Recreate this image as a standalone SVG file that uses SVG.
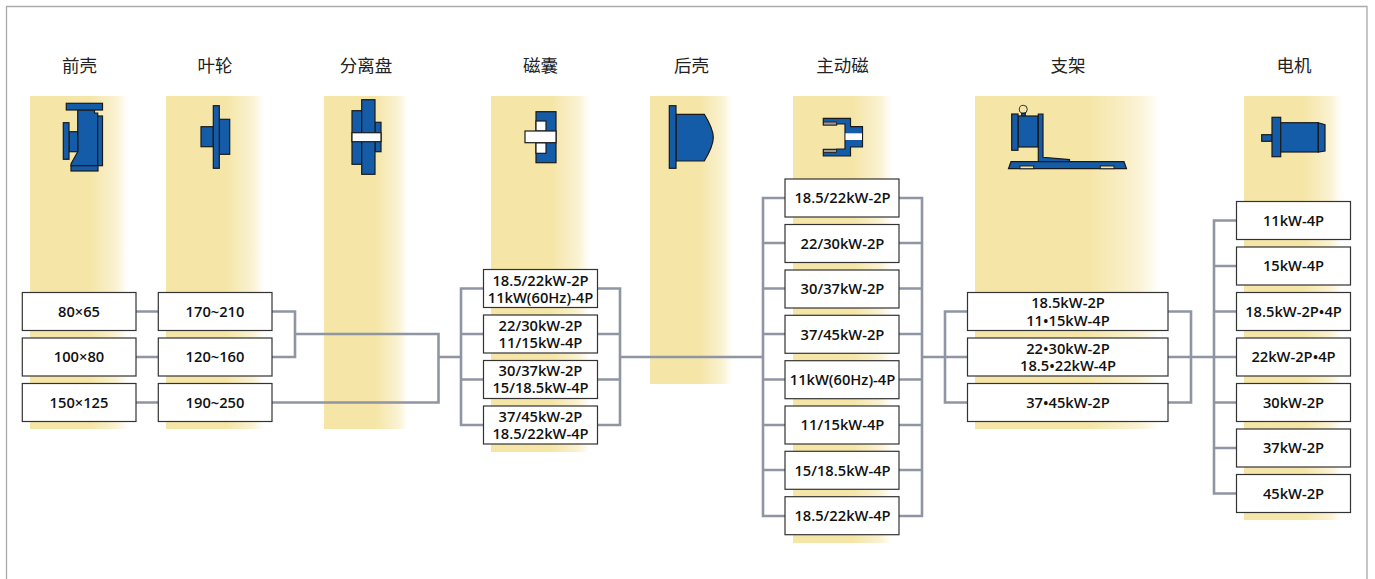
<svg xmlns="http://www.w3.org/2000/svg" width="1375" height="579" viewBox="0 0 1375 579">
<style>
.t{font-family:"Noto Sans CJK SC","Noto Sans",sans-serif;font-size:17.5px;fill:#222;text-anchor:middle}
.l{font-family:"Open Sans","Liberation Sans",sans-serif;font-size:14.7px;font-weight:600;fill:#111;text-anchor:middle}
.b{fill:#fff;stroke:#333;stroke-width:1.2}
.i{fill:#155ca8;stroke:#1a1a1a;stroke-width:1.2}
.w{fill:#fff;stroke:#1a1a1a;stroke-width:1.2}
.y{fill:#f5e6a8;stroke:#1a1a1a;stroke-width:0.9}
.s{fill:#999;stroke:#1a1a1a;stroke-width:0.8}
.c{fill:none;stroke:#8f95a3;stroke-width:2.6}
.band{fill:url(#g)}
</style>
<defs>
<linearGradient id="g" x1="0" x2="1" y1="0" y2="0">
<stop offset="0" stop-color="#f5e6a8"/><stop offset="0.62" stop-color="#f5e6a8"/><stop offset="0.88" stop-color="#faf2d2"/><stop offset="1" stop-color="#fff"/>
</linearGradient>
</defs>
<path d="M6.5 579V6.5H1367V579" fill="none" stroke="#aaa" stroke-width="1.3"/>
<g id="bands">
<rect class="band" x="30" y="96" width="98" height="333"/>
<rect class="band" x="166" y="96" width="98" height="333"/>
<rect class="band" x="324" y="96" width="84" height="333"/>
<rect class="band" x="491" y="96" width="99" height="356"/>
<rect class="band" x="650" y="96" width="82" height="288"/>
<rect class="band" x="793" y="96" width="99" height="447"/>
<rect class="band" x="975" y="96" width="185" height="333"/>
<rect class="band" x="1244" y="96" width="98" height="424"/>
</g>
<g id="connectors" class="c">
<path d="M136 311.5H158M136 357H158M136 402.5H158"/>
<path d="M272 311.5H295V357H272M295 334H438.5V402.5H272M438.5 357H461"/>
<path d="M483.5 288.5H461V425H483.5M461 334H483.5M461 379.5H483.5"/>
<path d="M597.5 288.5H620V425H597.5M620 334H597.5M620 379.5H597.5M620 357H763"/>
<path d="M785 198H763V516H785M763 243H785M763 288.5H785M763 334H785M763 379.5H785M763 425H785M763 470H785"/>
<path d="M899 198H922V516H899M922 243H899M922 288.5H899M922 334H899M922 379.5H899M922 425H899M922 470H899M922 357H945"/>
<path d="M967.5 311.5H945V402.5H967.5M945 357H967.5"/>
<path d="M1168 311.5H1191V402.5H1168M1191 357H1168M1191 357H1214"/>
<path d="M1236.5 220.5H1214V493.5H1236.5M1214 266H1236.5M1214 311.5H1236.5M1214 357H1236.5M1214 402.5H1236.5M1214 448H1236.5"/>
</g>
<g id="front-casing">
<text class="t" x="79.5" y="72">前壳</text>
<path class="i" d="M77.7 110H94.5V113H97.7V165.7H71V164L77.7 151.7Z"/>
<rect class="i" x="66.3" y="103.3" width="36.2" height="6.7"/>
<rect class="i" x="97.7" y="116" width="4.8" height="49.7"/>
<rect class="i" x="71" y="165.7" width="27" height="5.3"/>
<rect class="i" x="69" y="131.7" width="8.7" height="20"/>
<rect class="i" x="63.3" y="122.7" width="5.7" height="36.6"/>
<rect class="b" x="22.3" y="292.5" width="113.7" height="38"/><text class="l" x="79" y="316.7">80×65</text>
<rect class="b" x="22.3" y="338" width="113.7" height="38"/><text class="l" x="79" y="362">100×80</text>
<rect class="b" x="22.3" y="383.5" width="113.7" height="38"/><text class="l" x="79" y="407.7">150×125</text>
</g>
<g id="impeller">
<text class="t" x="215" y="72">叶轮</text>
<rect class="i" x="201" y="126.7" width="12.3" height="20"/>
<rect class="i" x="219.3" y="119.3" width="10.4" height="35"/>
<rect class="i" x="213.3" y="105.7" width="6" height="62.6"/>
<rect class="b" x="158.3" y="292.5" width="113.7" height="38"/><text class="l" x="215" y="316.7">170~210</text>
<rect class="b" x="158.3" y="338" width="113.7" height="38"/><text class="l" x="215" y="362">120~160</text>
<rect class="b" x="158.3" y="383.5" width="113.7" height="38"/><text class="l" x="215" y="407.7">190~250</text>
</g>
<g id="separator-disc">
<text class="t" x="366" y="72">分离盘</text>
<rect class="i" x="352" y="110.7" width="9.7" height="53.6"/>
<rect class="i" x="375" y="122.3" width="6" height="29.4"/>
<rect class="i" x="361.7" y="99.7" width="13.3" height="74.6"/>
<rect class="w" x="352" y="132.7" width="29" height="9"/>
</g>
<g id="magnet-capsule">
<text class="t" x="540.5" y="72">磁囊</text>
<rect class="i" x="536" y="111.7" width="20" height="51"/>
<rect class="w" x="536" y="121" width="10" height="10"/>
<rect class="w" x="536" y="142.7" width="10" height="10.6"/>
<rect class="w" x="525" y="131" width="31" height="11.7"/>
<rect class="b" x="483.5" y="269.5" width="114" height="38"/><text class="l" x="540.5" y="286">18.5/22kW-2P</text><text class="l" x="540.5" y="303.3">11kW(60Hz)-4P</text>
<rect class="b" x="483.5" y="315" width="114" height="38"/><text class="l" x="540.5" y="331">22/30kW-2P</text><text class="l" x="540.5" y="348">11/15kW-4P</text>
<rect class="b" x="483.5" y="360.5" width="114" height="38"/><text class="l" x="540.5" y="375.7">30/37kW-2P</text><text class="l" x="540.5" y="392.7">15/18.5kW-4P</text>
<rect class="b" x="483.5" y="406" width="114" height="38"/><text class="l" x="540.5" y="421.7">37/45kW-2P</text><text class="l" x="540.5" y="438.7">18.5/22kW-4P</text>
</g>
<g id="rear-casing">
<text class="t" x="691.5" y="72">后壳</text>
<path class="i" d="M676 114.3H704.3Q713.3 129 713.3 137.5Q713.3 146 704.3 161H676Z"/>
<rect class="i" x="669.3" y="105.7" width="6.7" height="62.6"/>
</g>
<g id="driving-magnet">
<text class="t" x="842.5" y="72">主动磁</text>
<path class="i" d="M823.3 118.3H850.5V126.7H862.5V147H850.5V156H823.3V149.3H836.7V149H845V124H836.7V125H823.3Z"/>
<rect class="s" x="823.6" y="122" width="13" height="3"/>
<rect class="s" x="823.6" y="149.5" width="13" height="3"/>
<rect x="845.5" y="133.3" width="16.5" height="6.7" fill="#fff"/>
<rect class="b" x="785" y="179" width="114" height="38"/><text class="l" x="842.5" y="203">18.5/22kW-2P</text>
<rect class="b" x="785" y="224.5" width="114" height="38"/><text class="l" x="842.5" y="248.5">22/30kW-2P</text>
<rect class="b" x="785" y="270" width="114" height="38"/><text class="l" x="842.5" y="294">30/37kW-2P</text>
<rect class="b" x="785" y="315.3" width="114" height="38"/><text class="l" x="842.5" y="339.5">37/45kW-2P</text>
<rect class="b" x="785" y="360.7" width="114" height="38"/><text class="l" x="842.5" y="385">11kW(60Hz)-4P</text>
<rect class="b" x="785" y="406" width="114" height="38"/><text class="l" x="842.5" y="430">11/15kW-4P</text>
<rect class="b" x="785" y="451.3" width="114" height="38"/><text class="l" x="842.5" y="475.5">15/18.5kW-4P</text>
<rect class="b" x="785" y="496.7" width="114" height="38"/><text class="l" x="842.5" y="521">18.5/22kW-4P</text>
</g>
<g id="bracket">
<text class="t" x="1068" y="72">支架</text>
<circle cx="1023.3" cy="109.3" r="4" class="y" stroke-width="1.2"/>
<rect class="i" x="1021.7" y="113.3" width="3.6" height="3"/>
<rect class="i" x="1018" y="116" width="20" height="31"/>
<rect class="i" x="1011.7" y="114" width="6.3" height="36.3"/>
<path class="i" d="M1038.3 114H1043V157.3L1069.5 159.6V161.7H1038.3Z"/>
<path class="i" d="M1011 161.7H1124L1126.5 168.7H1008.5Z"/>
<rect class="y" x="1020" y="166" width="13.7" height="2.7"/>
<rect class="y" x="1100.3" y="166" width="13.7" height="2.7"/>
<rect class="b" x="967.5" y="292.5" width="200.5" height="38"/><text class="l" x="1068" y="307.7">18.5kW-2P</text><text class="l" x="1068" y="325.7">11•15kW-4P</text>
<rect class="b" x="967.5" y="338" width="200.5" height="38"/><text class="l" x="1068" y="354">22•30kW-2P</text><text class="l" x="1068" y="371">18.5•22kW-4P</text>
<rect class="b" x="967.5" y="383.5" width="200.5" height="38"/><text class="l" x="1068" y="407.7">37•45kW-2P</text>
</g>
<g id="motor">
<text class="t" x="1294" y="72">电机</text>
<rect class="i" x="1261.7" y="134.7" width="10.3" height="6.6"/>
<rect class="i" x="1272" y="117.3" width="8.7" height="39.4"/>
<rect class="i" x="1280.7" y="122.7" width="37.6" height="29.3"/>
<path class="i" d="M1318.3 122.7L1325 124.7V151L1318.3 152Z"/>
<rect class="b" x="1236.5" y="201.5" width="114" height="38"/><text class="l" x="1293.5" y="225.5">11kW-4P</text>
<rect class="b" x="1236.5" y="247" width="114" height="38"/><text class="l" x="1293.5" y="271">15kW-4P</text>
<rect class="b" x="1236.5" y="292.5" width="114" height="38"/><text class="l" x="1293.5" y="316.7">18.5kW-2P•4P</text>
<rect class="b" x="1236.5" y="338" width="114" height="38"/><text class="l" x="1293.5" y="362">22kW-2P•4P</text>
<rect class="b" x="1236.5" y="383.5" width="114" height="38"/><text class="l" x="1293.5" y="407.7">30kW-2P</text>
<rect class="b" x="1236.5" y="429" width="114" height="38"/><text class="l" x="1293.5" y="453">37kW-2P</text>
<rect class="b" x="1236.5" y="474.5" width="114" height="38"/><text class="l" x="1293.5" y="498.5">45kW-2P</text>
</g>
</svg>
